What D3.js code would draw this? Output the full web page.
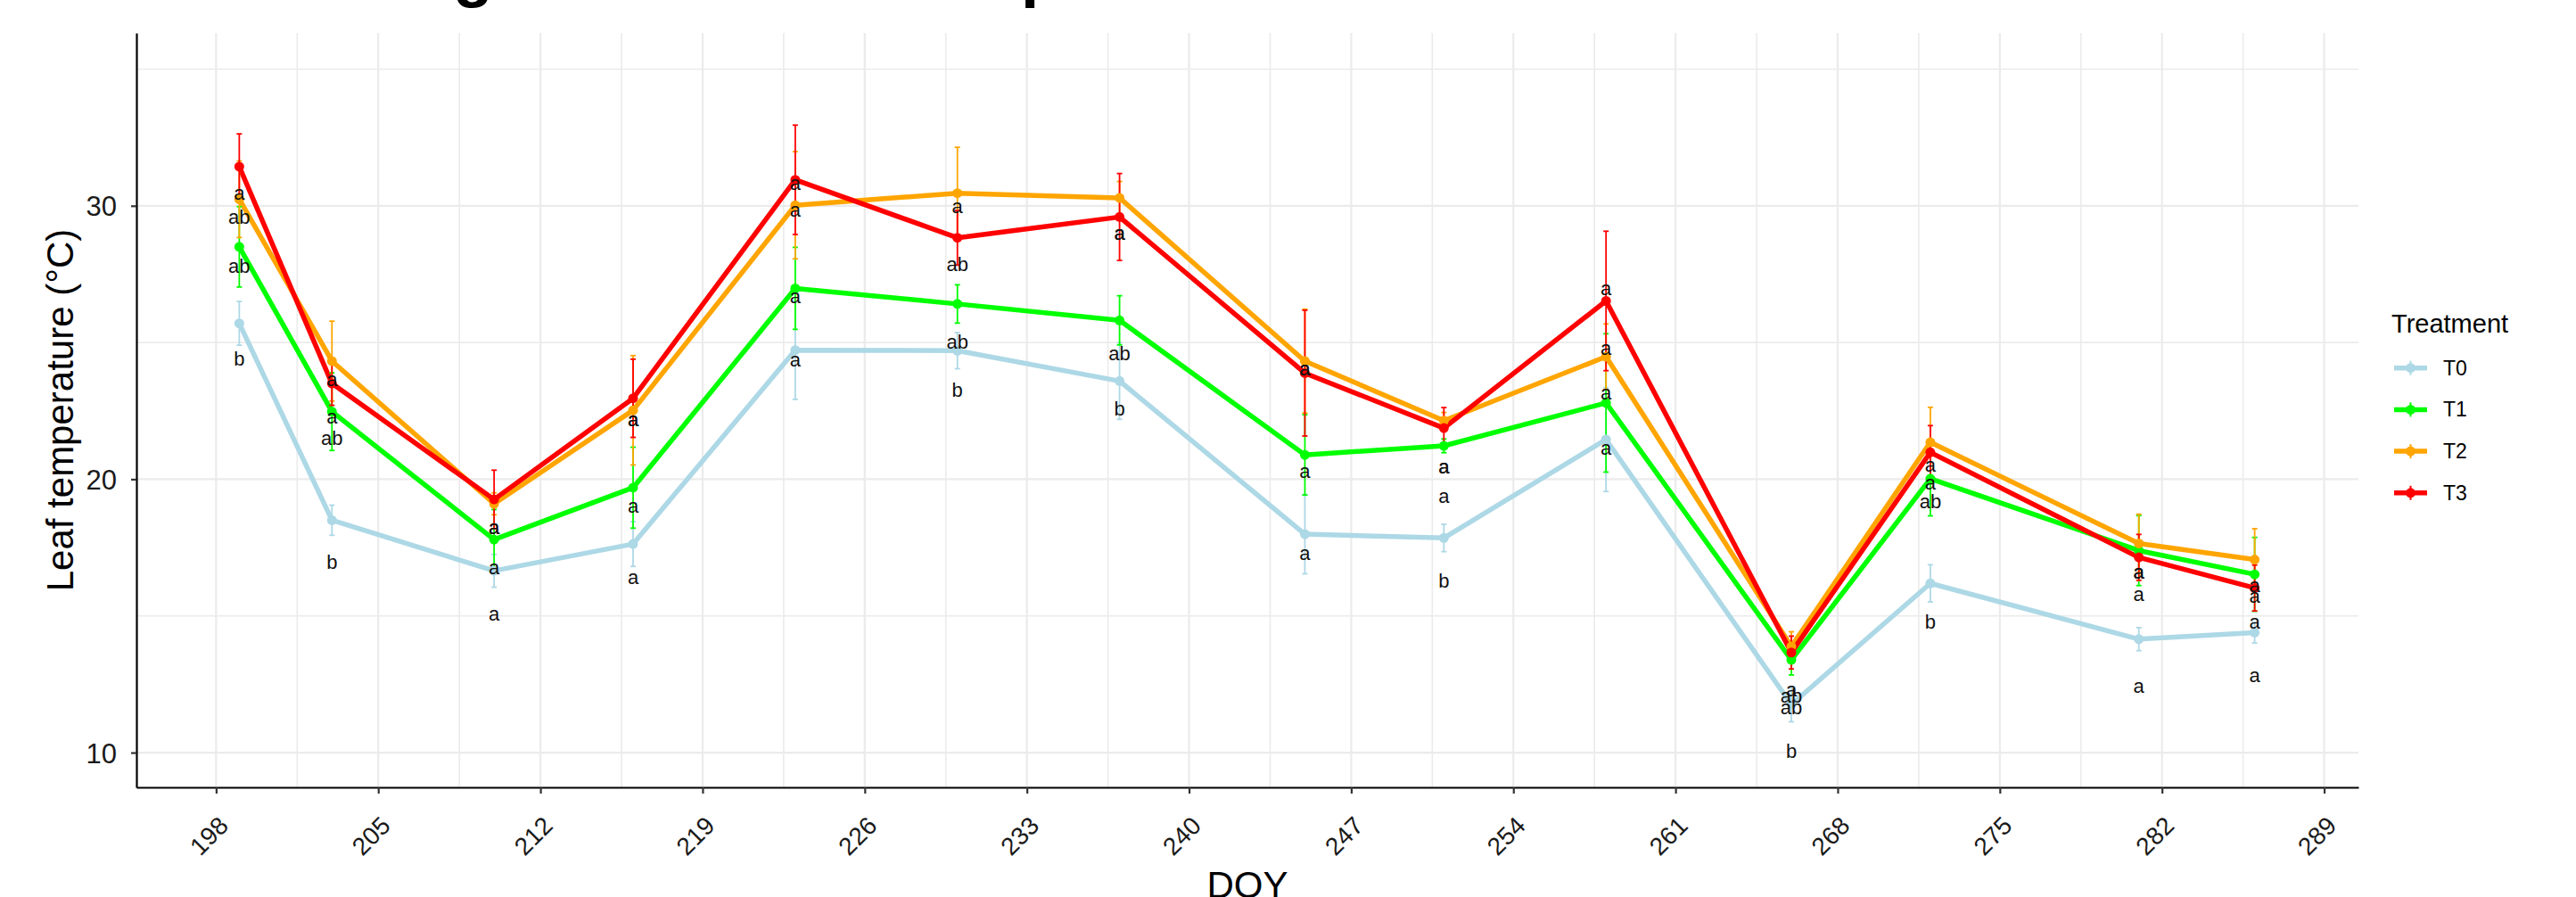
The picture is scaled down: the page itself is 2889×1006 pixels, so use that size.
<!DOCTYPE html>
<html>
<head>
<meta charset="utf-8">
<script src="https://cdn.jsdelivr.net/npm/d3@7"></script>
<style>
  html, body { margin: 0; padding: 0; background: #fff; overflow: hidden; }
  svg { display: block; font-family: "Liberation Sans", Arial, sans-serif; }
</style>
</head>
<body>
<div id="chart"></div>
<script>
// sampling days (DOY)
const days = [199, 203, 210, 216, 223, 230, 237, 245, 251, 258, 266, 272, 281, 286];

const treatments = ['T0', 'T1', 'T2', 'T3'];
const colours = ['#add8e6', '#00ff00', '#ffa500', '#ff0000'];

// mean leaf temperature (°C) and standard error per treatment
const meanT0 = [25.7, 18.5, 16.65, 17.63, 24.72, 24.7, 23.59, 17.99, 17.85, 21.45, 11.76, 16.19, 14.15, 14.39];
const seT0   = [0.8, 0.55, 0.6, 0.82, 1.8, 0.66, 1.4, 1.45, 0.5, 1.9, 0.63, 0.68, 0.42, 0.38];
const meanT1 = [28.5, 22.47, 17.79, 19.69, 26.98, 26.41, 25.81, 20.89, 21.22, 22.79, 13.39, 20.02, 17.39, 16.52];
const seT1   = [1.47, 1.42, 1.1, 1.48, 1.5, 0.7, 0.9, 1.47, 0.25, 2.53, 0.55, 1.36, 1.28, 1.35];
const meanT2 = [30.24, 24.32, 19.1, 22.52, 30.02, 30.46, 30.29, 24.32, 22.14, 24.48, 13.88, 21.35, 17.65, 17.06];
const seT2   = [1.4, 1.46, 0.4, 2.0, 1.96, 1.68, 0.6, 1.9, 0.3, 1.2, 0.54, 1.28, 1.07, 1.13];
const meanT3 = [31.43, 23.5, 19.26, 22.96, 30.95, 28.83, 29.59, 23.88, 21.87, 26.52, 13.66, 20.98, 17.14, 16.02];
const seT3   = [1.2, 0.8, 1.07, 1.43, 2.0, 1.0, 1.59, 2.3, 0.75, 2.55, 0.6, 0.98, 0.84, 0.84];

// significance letters and where they sit (°C)
const letT0 = ['b', 'b', 'a', 'a', 'a', 'b', 'b', 'a', 'b', 'a', 'b', 'b', 'a', 'a'];
const labT0 = [24.4, 16.98, 15.07, 16.43, 24.37, 23.28, 22.58, 17.3, 16.27, 21.16, 10.07, 14.8, 12.43, 12.82];
const letT1 = ['ab', 'ab', 'a', 'a', 'a', 'ab', 'ab', 'a', 'a', 'a', 'ab', 'ab', 'a', 'a'];
const labT1 = [27.8, 21.5, 16.76, 19.04, 26.7, 25.02, 24.61, 20.29, 19.37, 23.17, 11.65, 19.2, 16.6, 15.73];
const letT2 = ['ab', 'a', 'a', 'a', 'a', 'a', 'a', 'a', 'a', 'a', 'a', 'a', 'a', 'a'];
const labT2 = [29.59, 23.66, 18.23, 22.2, 29.86, 29.97, 29.02, 24.04, 20.46, 24.8, 12.3, 20.51, 16.6, 16.11];
const letT3 = ['a', 'a', 'a', 'a', 'a', 'ab', 'a', 'a', 'a', 'a', 'ab', 'a', 'a', 'a'];
const labT3 = [30.46, 22.3, 18.23, 22.2, 30.84, 27.87, 29.02, 24.04, 20.46, 26.98, 12.08, 19.86, 15.81, 14.78];

const xTicks = d3.range(198, 290, 7);
const xMinor = d3.range(201.5, 290, 7);
const yTicks = [10, 20, 30];
const yMinor = [15, 25, 35];

const titleText = 'Seasonal changes in the leaf temperature';

const means = [meanT0, meanT1, meanT2, meanT3];
const ses = [seT0, seT1, seT2, seT3];
const lets = [letT0, letT1, letT2, letT3];
const labs = [labT0, labT1, labT2, labT3];

const series = treatments.map((name, i) => ({
  name,
  colour: colours[i],
  values: days.map((day, j) => ({
    day, mean: means[i][j], se: ses[i][j], letter: lets[i][j], labelY: labs[i][j]
  }))
}));

const width = 2889;
const height = 1006;
const panel = { left: 153, right: 2645, top: 37, bottom: 883 };

const svg = d3.select('#chart').append('svg')
  .attr('width', width)
  .attr('height', height);

const x = d3.scaleLinear().domain([194.56, 290.48]).range([panel.left, panel.right]);
const y = d3.scaleLinear().domain([8.73, 36.32]).range([panel.bottom, panel.top]);

// grid
const grid = svg.append('g').attr('class', 'grid').attr('stroke', '#ebebeb');
grid.selectAll('line.hmin').data(yMinor).join('line')
  .attr('x1', panel.left).attr('x2', panel.right)
  .attr('y1', d => y(d)).attr('y2', d => y(d))
  .attr('stroke-width', 1.6);
grid.selectAll('line.vmin').data(xMinor).join('line')
  .attr('y1', panel.top).attr('y2', panel.bottom)
  .attr('x1', d => x(d)).attr('x2', d => x(d))
  .attr('stroke-width', 1.6);
grid.selectAll('line.hmaj').data(yTicks).join('line')
  .attr('x1', panel.left).attr('x2', panel.right)
  .attr('y1', d => y(d)).attr('y2', d => y(d))
  .attr('stroke-width', 2.2);
grid.selectAll('line.vmaj').data(xTicks).join('line')
  .attr('y1', panel.top).attr('y2', panel.bottom)
  .attr('x1', d => x(d)).attr('x2', d => x(d))
  .attr('stroke-width', 2.2);

// axes
const xAxis = svg.append('g')
  .attr('transform', `translate(0,${panel.bottom})`)
  .call(d3.axisBottom(x).tickValues(xTicks).tickSize(7).tickSizeOuter(0));
xAxis.selectAll('text')
  .attr('x', 0).attr('y', 0).attr('dy', '0.75em')
  .attr('transform', 'translate(0,30) rotate(-45)')
  .style('text-anchor', 'end');

const yAxis = svg.append('g')
  .attr('transform', `translate(${panel.left},0)`)
  .call(d3.axisLeft(y).tickValues(yTicks).tickSize(6).tickSizeOuter(0).tickPadding(16));
yAxis.selectAll('text').attr('dy', '0.36em');

svg.selectAll('.domain').attr('stroke', '#000').attr('stroke-width', 2.2);
svg.selectAll('.tick line').attr('stroke', '#333').attr('stroke-width', 2.2);
xAxis.selectAll('text').attr('fill', '#1a1a1a').style('font-size', '28px');
yAxis.selectAll('text').attr('fill', '#1a1a1a').style('font-size', '31px');

// axis titles
svg.append('text')
  .attr('transform', `translate(82,${(panel.top + panel.bottom) / 2}) rotate(-90)`)
  .attr('text-anchor', 'middle')
  .style('font-size', '42px')
  .text('Leaf temperature (°C)');

svg.append('text')
  .attr('x', (panel.left + panel.right) / 2)
  .attr('y', 1007)
  .attr('text-anchor', 'middle')
  .style('font-size', '42px')
  .text('DOY');

// title sits above the picture, only its descenders show
svg.append('text')
  .attr('x', -3).attr('y', -6)
  .style('font-size', '73px')
  .style('font-weight', 'bold')
  .text(titleText);

// data layers
const line = d3.line().x(d => x(d.day)).y(d => y(d.mean));
const plot = svg.append('g');

plot.selectAll('path.series').data(series).join('path')
  .attr('class', 'series')
  .attr('fill', 'none')
  .attr('stroke', d => d.colour)
  .attr('stroke-width', 5.5)
  .attr('stroke-linejoin', 'round')
  .attr('d', d => line(d.values));

const bars = plot.selectAll('g.bars').data(series).join('g')
  .attr('class', 'bars')
  .attr('stroke', d => d.colour)
  .attr('stroke-width', 1.8);
bars.selectAll('line.v').data(d => d.values).join('line')
  .attr('x1', d => x(d.day)).attr('x2', d => x(d.day))
  .attr('y1', d => y(d.mean + d.se)).attr('y2', d => y(d.mean - d.se));
bars.selectAll('line.top').data(d => d.values).join('line')
  .attr('x1', d => x(d.day) - 3).attr('x2', d => x(d.day) + 3)
  .attr('y1', d => y(d.mean + d.se)).attr('y2', d => y(d.mean + d.se));
bars.selectAll('line.bot').data(d => d.values).join('line')
  .attr('x1', d => x(d.day) - 3).attr('x2', d => x(d.day) + 3)
  .attr('y1', d => y(d.mean - d.se)).attr('y2', d => y(d.mean - d.se));

plot.selectAll('g.points').data(series).join('g')
  .attr('class', 'points')
  .attr('fill', d => d.colour)
  .selectAll('circle').data(d => d.values).join('circle')
  .attr('cx', d => x(d.day)).attr('cy', d => y(d.mean)).attr('r', 5.5);

plot.selectAll('g.letters').data(series).join('g')
  .attr('class', 'letters')
  .selectAll('text').data(d => d.values).join('text')
  .attr('x', d => x(d.day))
  .attr('y', d => y(d.labelY))
  .attr('dy', '0.35em')
  .attr('text-anchor', 'middle')
  .attr('fill', '#111')
  .style('font-size', '22px')
  .text(d => d.letter);

// legend
const legend = svg.append('g').attr('transform', 'translate(2682,0)');
legend.append('text')
  .attr('x', 0).attr('y', 373)
  .style('font-size', '29px')
  .text('Treatment');
const keys = legend.selectAll('g.key').data(series).join('g')
  .attr('class', 'key')
  .attr('transform', (d, i) => `translate(0,${412.7 + i * 46.7})`);
keys.append('line')
  .attr('x1', 3).attr('x2', 40)
  .attr('stroke', d => d.colour).attr('stroke-width', 5.5);
keys.append('line')
  .attr('x1', 21.5).attr('x2', 21.5).attr('y1', -8).attr('y2', 8)
  .attr('stroke', d => d.colour).attr('stroke-width', 2);
keys.append('circle')
  .attr('cx', 21.5).attr('r', 5.5)
  .attr('fill', d => d.colour);
keys.append('text')
  .attr('x', 58).attr('dy', '0.35em')
  .style('font-size', '23px')
  .text(d => d.name);
</script>
</body>
</html>
